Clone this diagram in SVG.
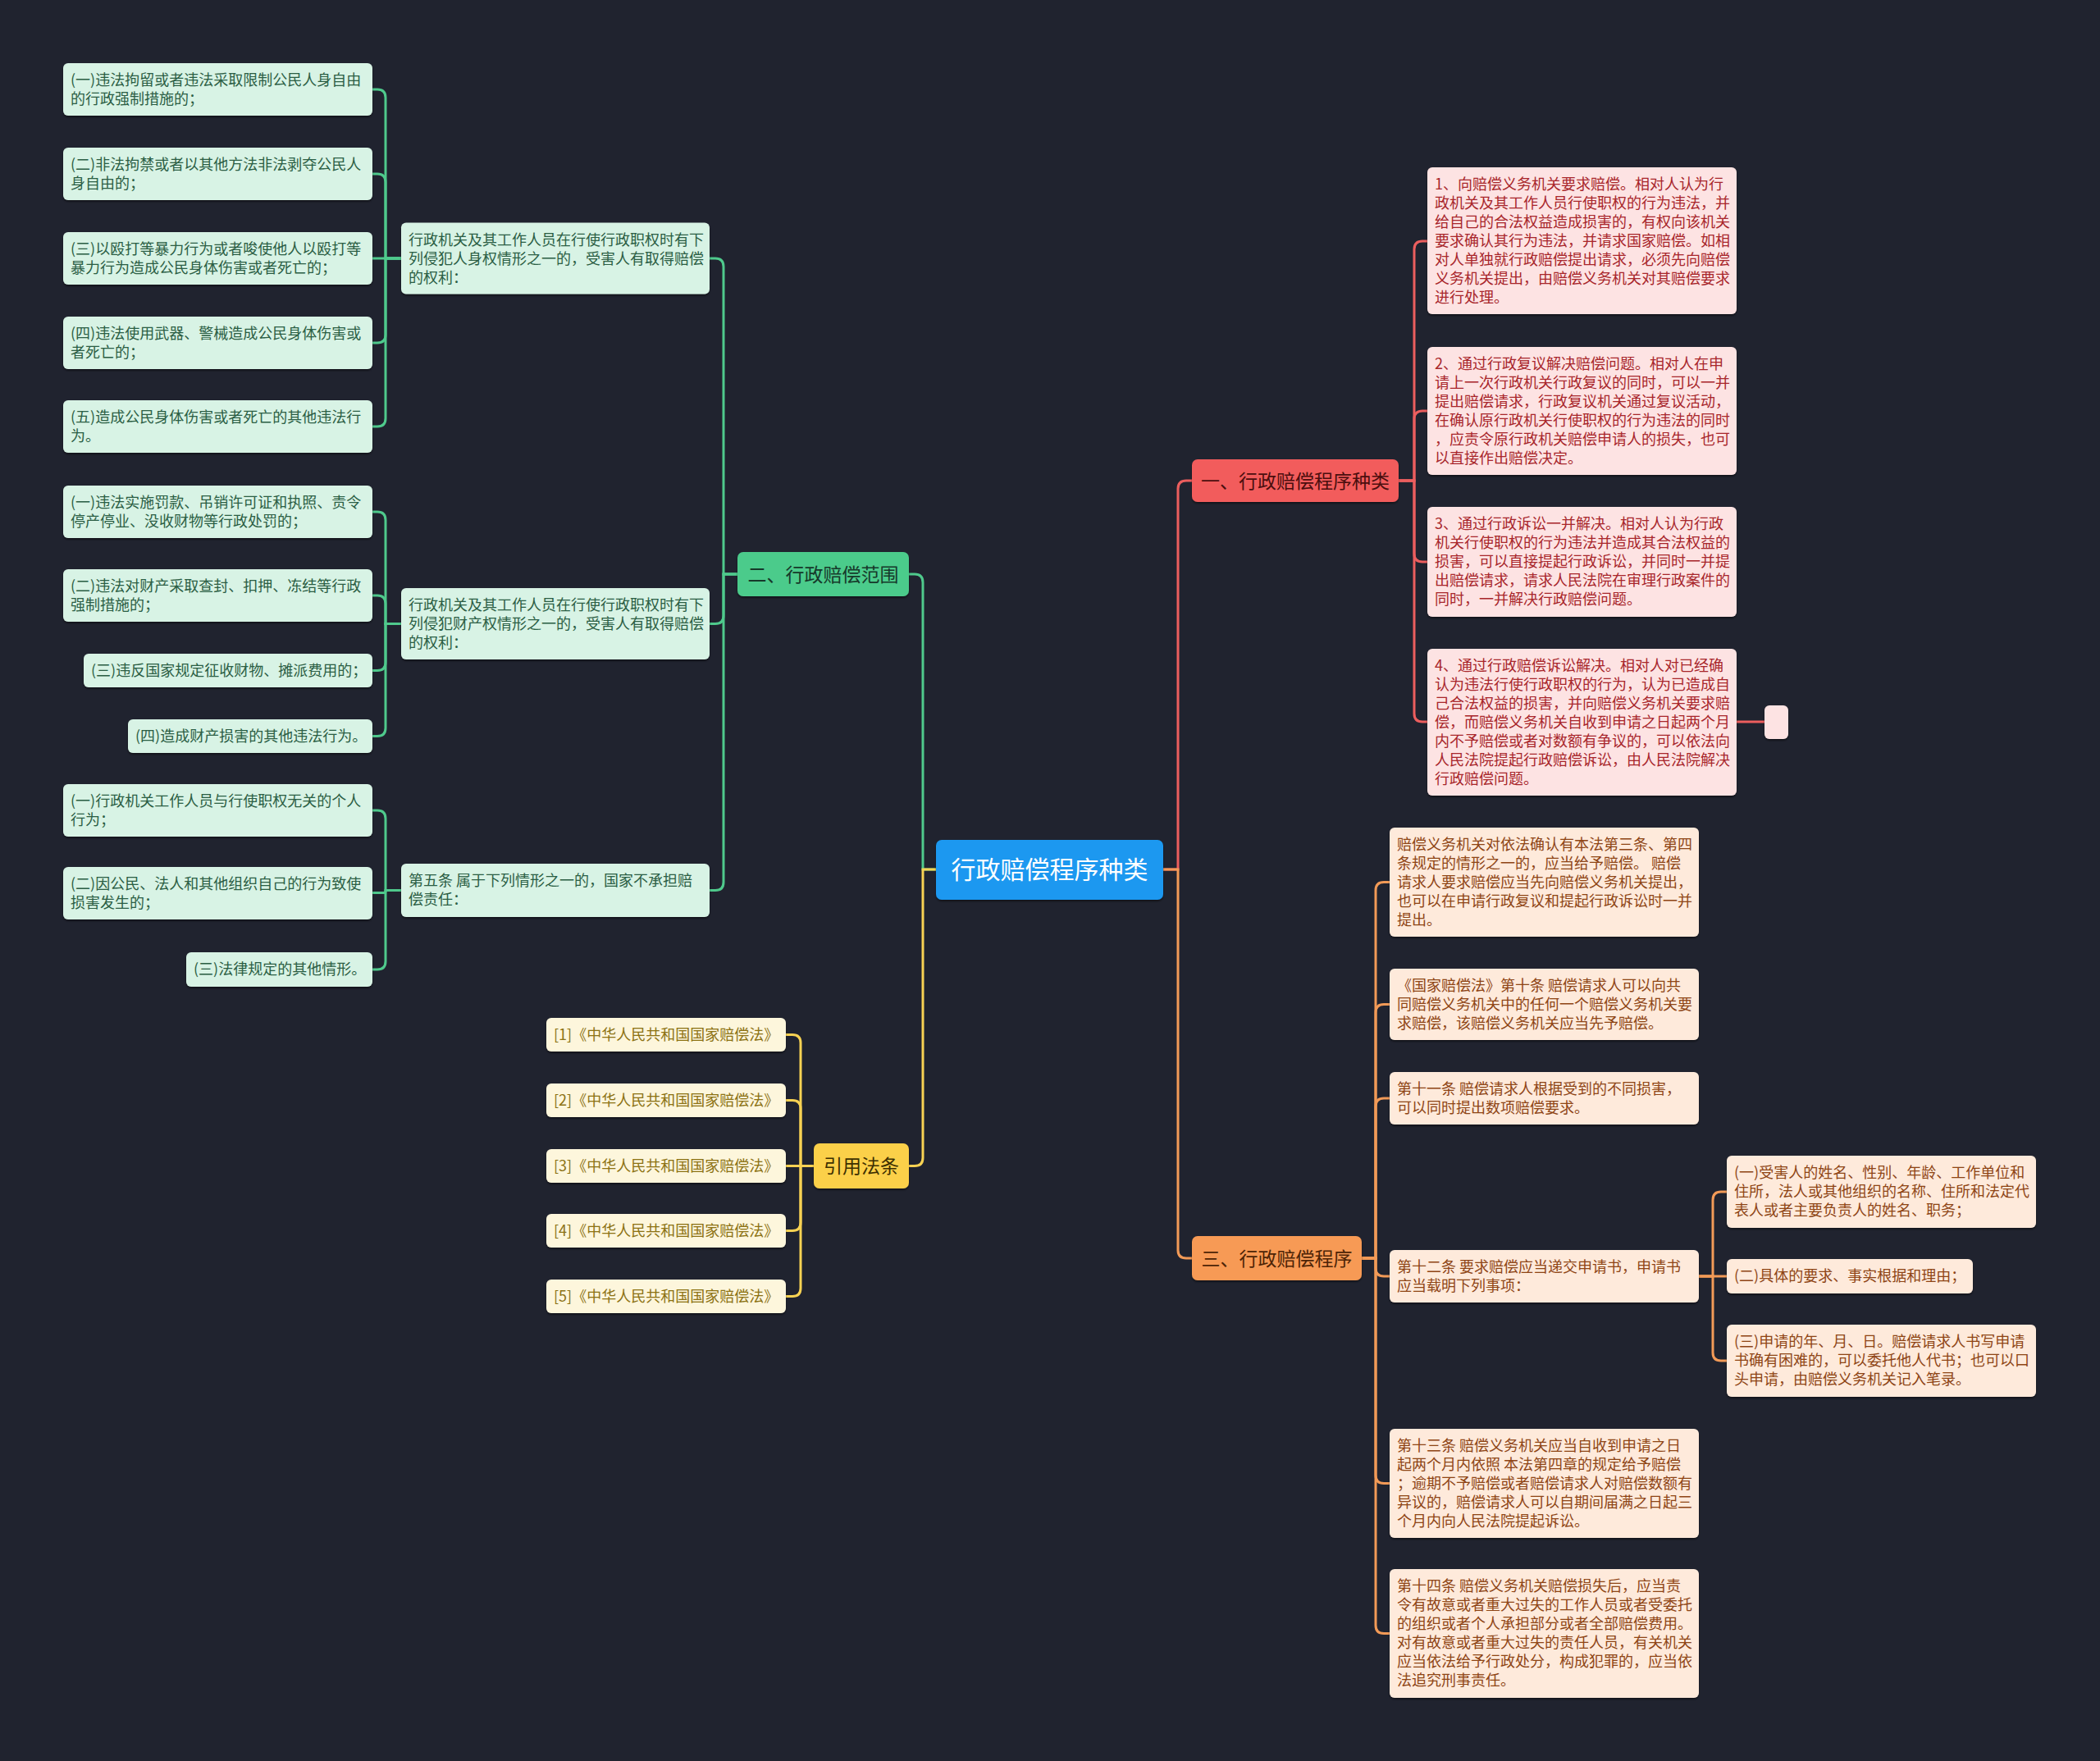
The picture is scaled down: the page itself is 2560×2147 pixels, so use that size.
<svg xmlns="http://www.w3.org/2000/svg" width="2560" height="2147" viewBox="0 0 2560 2147">
<defs>
<style>
text{font-family:"Noto Sans CJK SC","Noto Sans",sans-serif;}
.lf text{font-size:18px;}
.br text{font-size:23px;text-anchor:middle;}
.gl rect{fill:#d8f3e5;} .gl text{fill:#2b5e44;}
.gb rect{fill:#4ccb8b;} .gb text{fill:#16392a;}
.rl rect{fill:#fde3e3;} .rl text{fill:#a8262b;}
.rb rect{fill:#f25c5c;} .rb text{fill:#4b0e0e;}
.ol rect{fill:#feeadb;} .ol text{fill:#8e4515;}
.ob rect{fill:#f79a55;} .ob text{fill:#4d2406;}
.yl rect{fill:#fdf6dc;} .yl text{fill:#8c7213;}
.yb rect{fill:#fbd04a;} .yb text{fill:#3d2f00;}
rect{filter:url(#sh);}
.cn path{fill:none;stroke-width:3;}
.cg{stroke:#4fc98c;} .cr{stroke:#ec5e5e;} .co{stroke:#f29a57;} .cy{stroke:#f8d253;}
</style>
<filter id="sh" x="-5%" y="-10%" width="110%" height="130%">
<feDropShadow dx="0" dy="2" stdDeviation="1" flood-color="#000" flood-opacity="0.45"/>
</filter>
</defs>
<rect x="0" y="0" width="2560" height="2147" fill="#20232f" style="filter:none"/>

<g id="connectors" class="cn">
<!-- center to branches -->
<path class="cg" d="M1141 1060 H1125 V710 Q1125 700 1115 700 H1108"/>
<path class="cy" d="M1141 1060 H1125 V1411.5 Q1125 1421.5 1115 1421.5 H1108"/>
<path class="cr" d="M1418 1060 H1436 V596 Q1436 586 1446 586 H1453"/>
<path class="co" d="M1418 1060 H1436 V1524 Q1436 1534 1446 1534 H1453"/>
<!-- green -->
<path class="cg" d="M899 700 H882 V325 Q882 315 872 315 H865"/>
<path class="cg" d="M899 700 H882 V750.5 Q882 760.5 872 760.5 H865"/>
<path class="cg" d="M899 700 H882 V1075.5 Q882 1085.5 872 1085.5 H865"/>
<path class="cg" d="M489 315 H470 V119 Q470 109 460 109 H454"/>
<path class="cg" d="M489 315 H470 V222 Q470 212 460 212 H454"/>
<path class="cg" d="M489 315 H454"/>
<path class="cg" d="M489 315 H470 V408 Q470 418 460 418 H454"/>
<path class="cg" d="M489 315 H470 V510 Q470 520 460 520 H454"/>
<path class="cg" d="M489 760.5 H470 V634 Q470 624 460 624 H454"/>
<path class="cg" d="M489 760.5 H470 V736 Q470 726 460 726 H454"/>
<path class="cg" d="M489 760.5 H470 V807.5 Q470 817.5 460 817.5 H454"/>
<path class="cg" d="M489 760.5 H470 V887.5 Q470 897.5 460 897.5 H454"/>
<path class="cg" d="M489 1085.5 H470 V998 Q470 988 460 988 H454"/>
<path class="cg" d="M489 1085.5 H471 Q470 1085.5 470 1087 Q470 1088.5 468 1088.5 H454"/>
<path class="cg" d="M489 1085.5 H470 V1172 Q470 1182 460 1182 H454"/>
<!-- yellow -->
<path class="cy" d="M992 1421.5 H976 V1271.5 Q976 1261.5 966 1261.5 H958"/>
<path class="cy" d="M992 1421.5 H976 V1351.5 Q976 1341.5 966 1341.5 H958"/>
<path class="cy" d="M992 1421.5 H958"/>
<path class="cy" d="M992 1421.5 H976 V1490.5 Q976 1500.5 966 1500.5 H958"/>
<path class="cy" d="M992 1421.5 H976 V1570.5 Q976 1580.5 966 1580.5 H958"/>
<!-- red -->
<path class="cr" d="M1705 586 H1724 V304 Q1724 294 1734 294 H1740"/>
<path class="cr" d="M1705 586 H1724 V511 Q1724 501 1734 501 H1740"/>
<path class="cr" d="M1705 586 H1724 V675 Q1724 685 1734 685 H1740"/>
<path class="cr" d="M1705 586 H1724 V870 Q1724 880 1734 880 H1740"/>
<path class="cr" d="M2117 880 H2151"/>
<!-- orange -->
<path class="co" d="M1660 1534 H1677 V1085.5 Q1677 1075.5 1687 1075.5 H1694"/>
<path class="co" d="M1660 1534 H1677 V1234.5 Q1677 1224.5 1687 1224.5 H1694"/>
<path class="co" d="M1660 1534 H1677 V1349 Q1677 1339 1687 1339 H1694"/>
<path class="co" d="M1660 1534 H1677 V1546 Q1677 1556 1687 1556 H1694"/>
<path class="co" d="M1660 1534 H1677 V1798.5 Q1677 1808.5 1687 1808.5 H1694"/>
<path class="co" d="M1660 1534 H1677 V1981.5 Q1677 1991.5 1687 1991.5 H1694"/>
<path class="co" d="M2071 1556 H2088 V1463 Q2088 1453 2098 1453 H2105"/>
<path class="co" d="M2071 1556 H2105"/>
<path class="co" d="M2071 1556 H2088 V1649 Q2088 1659 2098 1659 H2105"/>
</g>

<!-- center -->
<g id="root">
<rect x="1141" y="1024" width="277" height="73" rx="7" fill="#1f98f0"/>
<text x="1279.5" y="1071" font-size="30" fill="#ffffff" text-anchor="middle">行政赔偿程序种类</text>
</g>

<!-- green branch -->
<g id="b-scope" class="br gb">
<rect x="899" y="673" width="209" height="54" rx="7"/>
<text x="1003.5" y="708.5">二、行政赔偿范围</text>
</g>
<g id="p1" class="lf gl">
<rect x="489" y="271.5" width="376" height="87" rx="6"/>
<text x="498" y="298.5"><tspan x="498">行政机关及其工作人员在行使行政职权时有下</tspan><tspan x="498" dy="23">列侵犯人身权情形之一的，受害人有取得赔偿</tspan><tspan x="498" dy="23">的权利：</tspan></text>
</g>
<g id="a1" class="lf gl">
<rect x="77" y="77" width="377" height="64" rx="6"/>
<text x="86" y="104"><tspan x="86">(一)违法拘留或者违法采取限制公民人身自由</tspan><tspan x="86" dy="23">的行政强制措施的；</tspan></text>
</g>
<g id="a2" class="lf gl">
<rect x="77" y="180" width="377" height="64" rx="6"/>
<text x="86" y="207"><tspan x="86">(二)非法拘禁或者以其他方法非法剥夺公民人</tspan><tspan x="86" dy="23">身自由的；</tspan></text>
</g>
<g id="a3" class="lf gl">
<rect x="77" y="283" width="377" height="64" rx="6"/>
<text x="86" y="310"><tspan x="86">(三)以殴打等暴力行为或者唆使他人以殴打等</tspan><tspan x="86" dy="23">暴力行为造成公民身体伤害或者死亡的；</tspan></text>
</g>
<g id="a4" class="lf gl">
<rect x="77" y="386" width="377" height="64" rx="6"/>
<text x="86" y="413"><tspan x="86">(四)违法使用武器、警械造成公民身体伤害或</tspan><tspan x="86" dy="23">者死亡的；</tspan></text>
</g>
<g id="a5" class="lf gl">
<rect x="77" y="488" width="377" height="64" rx="6"/>
<text x="86" y="515"><tspan x="86">(五)造成公民身体伤害或者死亡的其他违法行</tspan><tspan x="86" dy="23">为。</tspan></text>
</g>
<g id="p2" class="lf gl">
<rect x="489" y="717" width="376" height="87" rx="6"/>
<text x="498" y="744"><tspan x="498">行政机关及其工作人员在行使行政职权时有下</tspan><tspan x="498" dy="23">列侵犯财产权情形之一的，受害人有取得赔偿</tspan><tspan x="498" dy="23">的权利：</tspan></text>
</g>
<g id="b1" class="lf gl">
<rect x="77" y="592" width="377" height="64" rx="6"/>
<text x="86" y="619"><tspan x="86">(一)违法实施罚款、吊销许可证和执照、责令</tspan><tspan x="86" dy="23">停产停业、没收财物等行政处罚的；</tspan></text>
</g>
<g id="b2" class="lf gl">
<rect x="77" y="694" width="377" height="64" rx="6"/>
<text x="86" y="721"><tspan x="86">(二)违法对财产采取查封、扣押、冻结等行政</tspan><tspan x="86" dy="23">强制措施的；</tspan></text>
</g>
<g id="b3" class="lf gl">
<rect x="102" y="797" width="352" height="41" rx="6"/>
<text x="111" y="824">(三)违反国家规定征收财物、摊派费用的；</text>
</g>
<g id="b4" class="lf gl">
<rect x="156" y="877" width="298" height="41" rx="6"/>
<text x="165" y="904">(四)造成财产损害的其他违法行为。</text>
</g>
<g id="p3" class="lf gl">
<rect x="489" y="1053" width="376" height="65" rx="6"/>
<text x="498" y="1080"><tspan x="498">第五条 属于下列情形之一的，国家不承担赔</tspan><tspan x="498" dy="23">偿责任：</tspan></text>
</g>
<g id="c1" class="lf gl">
<rect x="77" y="956" width="377" height="64" rx="6"/>
<text x="86" y="983"><tspan x="86">(一)行政机关工作人员与行使职权无关的个人</tspan><tspan x="86" dy="23">行为；</tspan></text>
</g>
<g id="c2" class="lf gl">
<rect x="77" y="1057" width="377" height="64" rx="6"/>
<text x="86" y="1084"><tspan x="86">(二)因公民、法人和其他组织自己的行为致使</tspan><tspan x="86" dy="23">损害发生的；</tspan></text>
</g>
<g id="c3" class="lf gl">
<rect x="227" y="1161" width="227" height="42" rx="6"/>
<text x="236" y="1188">(三)法律规定的其他情形。</text>
</g>

<!-- yellow branch -->
<g id="b-ref" class="br yb">
<rect x="992" y="1394" width="116" height="55" rx="7"/>
<text x="1050" y="1430">引用法条</text>
</g>
<g id="y1" class="lf yl"><rect x="666" y="1241" width="292" height="41" rx="6"/><text x="675" y="1268">[1]《中华人民共和国国家赔偿法》</text></g>
<g id="y2" class="lf yl"><rect x="666" y="1321" width="292" height="41" rx="6"/><text x="675" y="1348">[2]《中华人民共和国国家赔偿法》</text></g>
<g id="y3" class="lf yl"><rect x="666" y="1401" width="292" height="41" rx="6"/><text x="675" y="1428">[3]《中华人民共和国国家赔偿法》</text></g>
<g id="y4" class="lf yl"><rect x="666" y="1480" width="292" height="41" rx="6"/><text x="675" y="1507">[4]《中华人民共和国国家赔偿法》</text></g>
<g id="y5" class="lf yl"><rect x="666" y="1560" width="292" height="41" rx="6"/><text x="675" y="1587">[5]《中华人民共和国国家赔偿法》</text></g>

<!-- red branch -->
<g id="b-kinds" class="br rb">
<rect x="1453" y="560" width="252" height="52" rx="7"/>
<text x="1579" y="594.5">一、行政赔偿程序种类</text>
</g>
<g id="r1" class="lf rl">
<rect x="1740" y="204" width="377" height="179" rx="6"/>
<text x="1749" y="231"><tspan x="1749">1、向赔偿义务机关要求赔偿。相对人认为行</tspan><tspan x="1749" dy="23">政机关及其工作人员行使职权的行为违法，并</tspan><tspan x="1749" dy="23">给自己的合法权益造成损害的，有权向该机关</tspan><tspan x="1749" dy="23">要求确认其行为违法，并请求国家赔偿。如相</tspan><tspan x="1749" dy="23">对人单独就行政赔偿提出请求，必须先向赔偿</tspan><tspan x="1749" dy="23">义务机关提出，由赔偿义务机关对其赔偿要求</tspan><tspan x="1749" dy="23">进行处理。</tspan></text>
</g>
<g id="r2" class="lf rl">
<rect x="1740" y="423" width="377" height="156" rx="6"/>
<text x="1749" y="450"><tspan x="1749">2、通过行政复议解决赔偿问题。相对人在申</tspan><tspan x="1749" dy="23">请上一次行政机关行政复议的同时，可以一并</tspan><tspan x="1749" dy="23">提出赔偿请求，行政复议机关通过复议活动，</tspan><tspan x="1749" dy="23">在确认原行政机关行使职权的行为违法的同时</tspan><tspan x="1749" dy="23">，应责令原行政机关赔偿申请人的损失，也可</tspan><tspan x="1749" dy="23">以直接作出赔偿决定。</tspan></text>
</g>
<g id="r3" class="lf rl">
<rect x="1740" y="618" width="377" height="134" rx="6"/>
<text x="1749" y="645"><tspan x="1749">3、通过行政诉讼一并解决。相对人认为行政</tspan><tspan x="1749" dy="23">机关行使职权的行为违法并造成其合法权益的</tspan><tspan x="1749" dy="23">损害，可以直接提起行政诉讼，并同时一并提</tspan><tspan x="1749" dy="23">出赔偿请求，请求人民法院在审理行政案件的</tspan><tspan x="1749" dy="23">同时，一并解决行政赔偿问题。</tspan></text>
</g>
<g id="r4" class="lf rl">
<rect x="1740" y="791" width="377" height="179" rx="6"/>
<text x="1749" y="818"><tspan x="1749">4、通过行政赔偿诉讼解决。相对人对已经确</tspan><tspan x="1749" dy="23">认为违法行使行政职权的行为，认为已造成自</tspan><tspan x="1749" dy="23">己合法权益的损害，并向赔偿义务机关要求赔</tspan><tspan x="1749" dy="23">偿，而赔偿义务机关自收到申请之日起两个月</tspan><tspan x="1749" dy="23">内不予赔偿或者对数额有争议的，可以依法向</tspan><tspan x="1749" dy="23">人民法院提起行政赔偿诉讼，由人民法院解决</tspan><tspan x="1749" dy="23">行政赔偿问题。</tspan></text>
</g>
<g id="r5" class="lf rl">
<rect x="2151" y="860" width="29" height="41" rx="6"/>
</g>

<!-- orange branch -->
<g id="b-proc" class="br ob">
<rect x="1453" y="1507" width="207" height="54" rx="7"/>
<text x="1556.5" y="1542.5">三、行政赔偿程序</text>
</g>
<g id="o1" class="lf ol">
<rect x="1694" y="1009" width="377" height="133" rx="6"/>
<text x="1703" y="1036"><tspan x="1703">赔偿义务机关对依法确认有本法第三条、第四</tspan><tspan x="1703" dy="23">条规定的情形之一的，应当给予赔偿。 赔偿</tspan><tspan x="1703" dy="23">请求人要求赔偿应当先向赔偿义务机关提出，</tspan><tspan x="1703" dy="23">也可以在申请行政复议和提起行政诉讼时一并</tspan><tspan x="1703" dy="23">提出。</tspan></text>
</g>
<g id="o2" class="lf ol">
<rect x="1694" y="1181" width="377" height="87" rx="6"/>
<text x="1703" y="1208"><tspan x="1703">《国家赔偿法》第十条 赔偿请求人可以向共</tspan><tspan x="1703" dy="23">同赔偿义务机关中的任何一个赔偿义务机关要</tspan><tspan x="1703" dy="23">求赔偿，该赔偿义务机关应当先予赔偿。</tspan></text>
</g>
<g id="o3" class="lf ol">
<rect x="1694" y="1307" width="377" height="64" rx="6"/>
<text x="1703" y="1334"><tspan x="1703">第十一条 赔偿请求人根据受到的不同损害，</tspan><tspan x="1703" dy="23">可以同时提出数项赔偿要求。</tspan></text>
</g>
<g id="o4" class="lf ol">
<rect x="1694" y="1524" width="377" height="64" rx="6"/>
<text x="1703" y="1551"><tspan x="1703">第十二条 要求赔偿应当递交申请书，申请书</tspan><tspan x="1703" dy="23">应当载明下列事项：</tspan></text>
</g>
<g id="s1" class="lf ol">
<rect x="2105" y="1409" width="377" height="88" rx="6"/>
<text x="2114" y="1436"><tspan x="2114">(一)受害人的姓名、性别、年龄、工作单位和</tspan><tspan x="2114" dy="23">住所，法人或其他组织的名称、住所和法定代</tspan><tspan x="2114" dy="23">表人或者主要负责人的姓名、职务；</tspan></text>
</g>
<g id="s2" class="lf ol">
<rect x="2105" y="1535" width="300" height="42" rx="6"/>
<text x="2114" y="1562">(二)具体的要求、事实根据和理由；</text>
</g>
<g id="s3" class="lf ol">
<rect x="2105" y="1615" width="377" height="88" rx="6"/>
<text x="2114" y="1642"><tspan x="2114">(三)申请的年、月、日。赔偿请求人书写申请</tspan><tspan x="2114" dy="23">书确有困难的，可以委托他人代书；也可以口</tspan><tspan x="2114" dy="23">头申请，由赔偿义务机关记入笔录。</tspan></text>
</g>
<g id="o5" class="lf ol">
<rect x="1694" y="1742" width="377" height="133" rx="6"/>
<text x="1703" y="1769"><tspan x="1703">第十三条 赔偿义务机关应当自收到申请之日</tspan><tspan x="1703" dy="23">起两个月内依照 本法第四章的规定给予赔偿</tspan><tspan x="1703" dy="23">；逾期不予赔偿或者赔偿请求人对赔偿数额有</tspan><tspan x="1703" dy="23">异议的，赔偿请求人可以自期间届满之日起三</tspan><tspan x="1703" dy="23">个月内向人民法院提起诉讼。</tspan></text>
</g>
<g id="o6" class="lf ol">
<rect x="1694" y="1913" width="377" height="157" rx="6"/>
<text x="1703" y="1940"><tspan x="1703">第十四条 赔偿义务机关赔偿损失后，应当责</tspan><tspan x="1703" dy="23">令有故意或者重大过失的工作人员或者受委托</tspan><tspan x="1703" dy="23">的组织或者个人承担部分或者全部赔偿费用。</tspan><tspan x="1703" dy="23">对有故意或者重大过失的责任人员，有关机关</tspan><tspan x="1703" dy="23">应当依法给予行政处分，构成犯罪的，应当依</tspan><tspan x="1703" dy="23">法追究刑事责任。</tspan></text>
</g>
</svg>
